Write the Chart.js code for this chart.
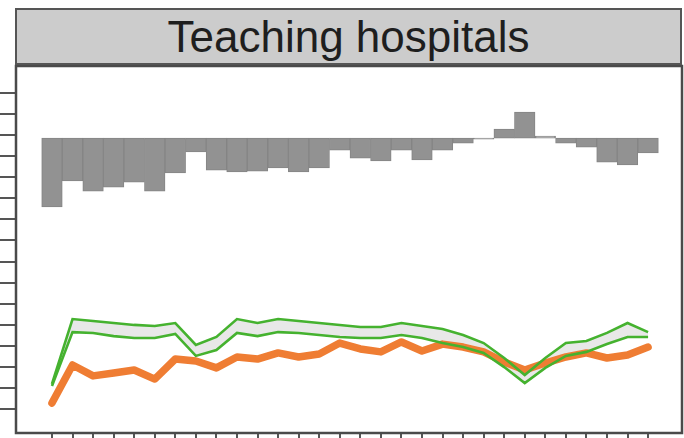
<!DOCTYPE html>
<html>
<head>
<meta charset="utf-8">
<script src="https://cdn.jsdelivr.net/npm/chart.js@4/dist/chart.umd.min.js"></script>
<style>
  html, body { margin: 0; padding: 0; background: #fff; }
  #wrap { position: relative; width: 684px; height: 438px; }
  #panelTitle {
    position: absolute; left: 15px; top: 8px; width: 663px; height: 53px;
    background: #cccccc; border: 2px solid #555;
    font: 44px "Liberation Sans", Arial, sans-serif; color: #1e1e1e;
    text-align: center; line-height: 54px;
  }
  canvas { position: absolute; left: 0; top: 0; }
</style>
</head>
<body>
<div id="wrap">
  <canvas id="chart" width="684" height="438"></canvas>
  <div id="panelTitle">Teaching hospitals</div>
</div>
<script>
// 30 periods, plotted at x = 0..29
const periods = Array.from({ length: 30 }, (_, i) => i);
const yTicks = [0, 10, 20, 30, 40, 50, 60, 70, 80, 90, 100, 110, 120, 130, 140, 150];

// difference bars hang from this level
const barBase = 128.6;
const diffValues = [
  -32.7, -20.4, -25.2, -23.3, -20.9, -25.2, -16.6, -6.6, -15.2, -16.1,
  -15.7, -14.2, -16.1, -14.2, -5.7, -9.5, -10.9, -5.7, -10.4, -5.7,
  -2.4, -0.5, 4.3, 12.3, 0.9, -2.4, -4.3, -11.4, -12.8, -7.1
];

const orangeValues = [
  2.8, 20.9, 15.7, 17.1, 18.5, 14.2, 23.7, 22.8, 19.5, 24.7,
  23.7, 26.6, 24.7, 26.1, 31.3, 28.5, 27.1, 31.8, 27.5, 30.8,
  29.4, 27.1, 22.3, 18.5, 21.8, 24.7, 26.6, 24.2, 25.6, 29.4
];

const greenUpper = [
  11.9, 42.7, 41.8, 40.8, 39.9, 39.4, 40.8, 30.4, 34.2, 42.7,
  40.8, 42.7, 41.8, 40.8, 39.9, 38.9, 38.9, 40.8, 39.4, 38.0,
  35.1, 31.3, 24.2, 16.1, 24.2, 31.3, 32.3, 36.1, 40.8, 36.5
];

const greenLower = [
  10.9, 36.5, 36.1, 34.6, 33.7, 33.7, 35.6, 25.2, 28.0, 36.1,
  34.6, 36.5, 36.1, 35.1, 34.2, 33.7, 33.7, 35.1, 33.7, 31.3,
  29.4, 26.6, 19.9, 12.3, 19.5, 25.2, 27.1, 30.8, 34.2, 34.2
];

const toPoints = arr => arr.map((v, i) => ({ x: periods[i], y: v }));

// frame around the plot area
const framePlugin = {
  id: "frame",
  afterDraw(chart) {
    const { ctx, chartArea: a } = chart;
    ctx.save();
    ctx.strokeStyle = "#4a4a4a";
    ctx.lineWidth = 2.5;
    ctx.strokeRect(a.left, a.top, a.right - a.left, a.bottom - a.top);
    ctx.restore();
  }
};

new Chart(document.getElementById("chart"), {
  type: "line",
  data: {
    datasets: [
      {
        type: "line",
        data: toPoints(greenUpper),
        borderColor: "#45b22f",
        borderWidth: 2.6,
        backgroundColor: "#e8e8e8",
        fill: "+1",
        pointRadius: 0,
        tension: 0,
        order: 1
      },
      {
        type: "line",
        data: toPoints(greenLower),
        borderColor: "#45b22f",
        borderWidth: 2.6,
        fill: false,
        pointRadius: 0,
        tension: 0,
        order: 2
      },
      {
        type: "line",
        data: toPoints(orangeValues),
        borderColor: "#ef7d33",
        borderWidth: 7.5,
        borderCapStyle: "round",
        borderJoinStyle: "round",
        fill: false,
        pointRadius: 0,
        tension: 0,
        order: 3
      },
      {
        type: "bar",
        data: diffValues.map((d, i) => ({ x: periods[i], y: [barBase, barBase + d] })),
        backgroundColor: "#929292",
        borderColor: "#858585",
        borderWidth: 1,
        borderSkipped: false,
        barPercentage: 1,
        categoryPercentage: 1,
        order: 4
      }
    ]
  },
  options: {
    responsive: false,
    animation: false,
    layout: { padding: { top: 66, right: 2, left: 0, bottom: 0 } },
    plugins: {
      legend: { display: false },
      tooltip: { enabled: false },
      title: { display: false },
      filler: { drawTime: "beforeDatasetsDraw" }
    },
    scales: {
      x: {
        type: "linear",
        min: -1.75,
        max: 30.65,
        offset: false,
        afterBuildTicks: s => { s.ticks = periods.map(v => ({ value: v })); },
        ticks: { display: false },
        grid: { drawOnChartArea: false, offset: false, tickLength: 5, color: "#555", lineWidth: 2 },
        border: { display: false }
      },
      y: {
        min: -11.4,
        max: 162.8,
        beginAtZero: false,
        afterBuildTicks: s => { s.ticks = yTicks.map(v => ({ value: v })); },
        ticks: { display: false },
        grid: { drawOnChartArea: false, tickLength: 16, color: "#555", lineWidth: 2 },
        border: { display: false }
      }
    }
  },
  plugins: [framePlugin]
});
</script>
</body>
</html>
